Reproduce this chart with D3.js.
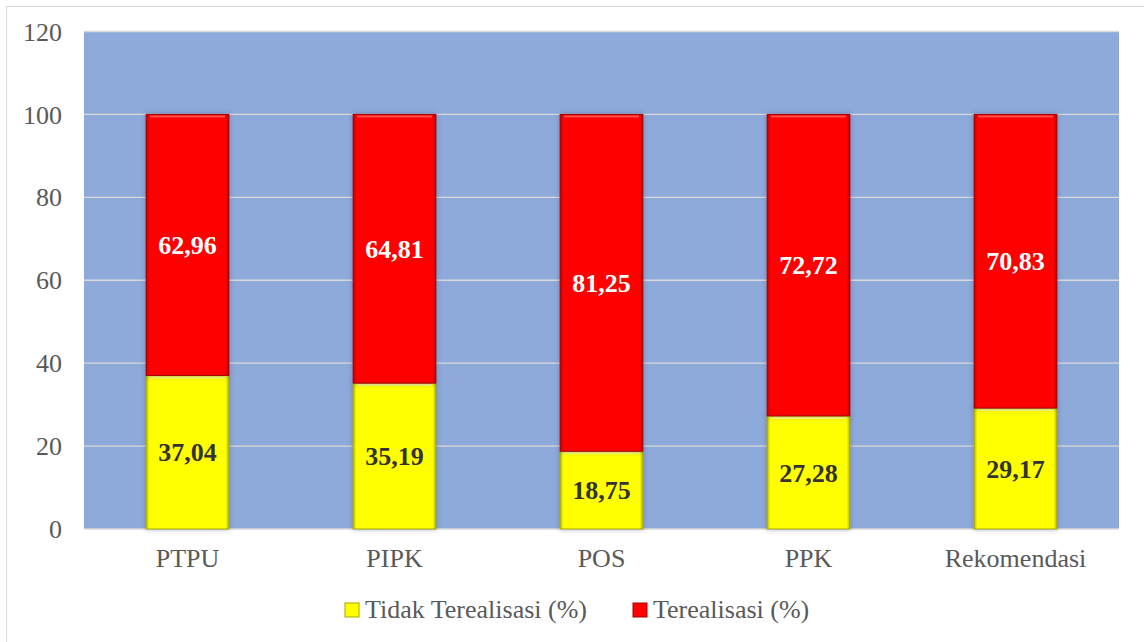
<!DOCTYPE html>
<html lang="id">
<head>
<meta charset="UTF-8">
<title>Realisasi</title>
<script src="https://d3js.org/d3.v7.min.js"></script>
<style>
  body { margin: 0; background: #fff; }
  svg { display: block; font-family: "Liberation Serif", "Times New Roman", serif; }
</style>
</head>
<body>
<script>
// data
var categories = ["PTPU", "PIPK", "POS", "PPK", "Rekomendasi"];
var tidakTerealisasi = [37.04, 35.19, 18.75, 27.28, 29.17];
var terealisasi = [62.96, 64.81, 81.25, 72.72, 70.83];
var yTicks = [0, 20, 40, 60, 80, 100, 120];
var seriesNames = ["Tidak Terealisasi (%)", "Terealisasi (%)"];

var W = 1144, H = 642;
var pLeft = 84, pRight = 1119, pTop = 31.5, pBottom = 529;
var fs = 26;

var svg = d3.select("body").append("svg").attr("width", W).attr("height", H);

// bevel gradients
var defs = svg.append("defs");
function bevel(id, base, dark) {
  var g = defs.append("linearGradient").attr("id", id).attr("x1", 0).attr("x2", 1).attr("y1", 0).attr("y2", 0);
  g.append("stop").attr("offset", "0%").attr("stop-color", dark);
  g.append("stop").attr("offset", "4%").attr("stop-color", base);
  g.append("stop").attr("offset", "96%").attr("stop-color", base);
  g.append("stop").attr("offset", "100%").attr("stop-color", dark);
}
bevel("gRed", "#ff0000", "#b80000");
bevel("gYel", "#ffff00", "#b8b800");

var f = defs.append("filter").attr("id", "shadow").attr("x", "-20%").attr("y", "-5%").attr("width", "140%").attr("height", "110%");
f.append("feDropShadow").attr("dx", 0).attr("dy", 0).attr("stdDeviation", 2.5).attr("flood-color", "#3a4a6a").attr("flood-opacity", 0.45);

// outer border
svg.append("rect").attr("x", 6.5).attr("y", 6.5).attr("width", 1150).attr("height", 650)
  .attr("fill", "none").attr("stroke", "#d9d9d9");

var x = d3.scaleBand().domain(categories).range([pLeft, pRight]).paddingInner(0.6).paddingOuter(0.3);
var y = d3.scaleLinear().domain([0, 120]).range([pBottom, pTop]);

// plot area
svg.append("rect").attr("x", pLeft).attr("y", pTop).attr("width", pRight - pLeft).attr("height", pBottom - pTop)
  .attr("fill", "#8eaadb");

svg.append("g").selectAll("line").data(yTicks).enter().append("line")
  .attr("x1", pLeft).attr("x2", pRight)
  .attr("y1", function(d){ return y(d); }).attr("y2", function(d){ return y(d); })
  .attr("stroke", "#d9d9d9").attr("stroke-width", 1.3);

// y labels
svg.append("g").selectAll("text").data(yTicks).enter().append("text")
  .attr("x", 62).attr("y", function(d){ return y(d); })
  .attr("dy", "0.35em").attr("text-anchor", "end")
  .attr("font-size", fs).attr("fill", "#595959")
  .text(function(d){ return d; });

// stacked bars
var rows = categories.map(function(c, i){ return { cat: c, a: tidakTerealisasi[i], b: terealisasi[i] }; });
var stack = d3.stack().keys(["a", "b"])(rows);
var fills = ["url(#gYel)", "url(#gRed)"];
var strokes = ["#a8a800", "#a00000"];
var labelColors = ["#333333", "#ffffff"];

function fmt(v) { return v.toFixed(2).replace(".", ","); }

stack.forEach(function(layer, k) {
  var g = svg.append("g");
  g.selectAll("rect").data(layer).enter().append("rect")
    .attr("x", function(d){ return x(d.data.cat); })
    .attr("y", function(d){ return y(d[1]); })
    .attr("width", x.bandwidth())
    .attr("height", function(d){ return y(d[0]) - y(d[1]); })
    .attr("fill", fills[k]).attr("stroke", strokes[k]).attr("stroke-width", 1)
    .attr("filter", "url(#shadow)");
  // top highlight strip
  g.selectAll("line.hl").data(layer).enter().append("line")
    .attr("x1", function(d){ return x(d.data.cat) + 4; })
    .attr("x2", function(d){ return x(d.data.cat) + x.bandwidth() - 4; })
    .attr("y1", function(d){ return y(d[1]) + 2; })
    .attr("y2", function(d){ return y(d[1]) + 2; })
    .attr("stroke", k ? "#ff6060" : "#ffff99").attr("stroke-width", 2).attr("opacity", 0.8);
});

stack.forEach(function(layer, k) {
  svg.append("g").selectAll("text").data(layer).enter().append("text")
    .attr("x", function(d){ return x(d.data.cat) + x.bandwidth() / 2; })
    .attr("y", function(d){ return y((d[0] + d[1]) / 2); })
    .attr("dy", "0.35em").attr("text-anchor", "middle")
    .attr("font-size", fs).attr("font-weight", "bold").attr("fill", labelColors[k])
    .text(function(d){ return fmt(d[1] - d[0]); });
});

// x labels
svg.append("g").selectAll("text").data(categories).enter().append("text")
  .attr("x", function(d){ return x(d) + x.bandwidth() / 2; })
  .attr("y", 567).attr("text-anchor", "middle")
  .attr("font-size", fs).attr("fill", "#595959")
  .text(function(d){ return d; });

// legend
var legX = [345, 633];
var legCol = ["#ffff00", "#ff0000"];
var legStroke = ["#a8a800", "#a00000"];
var leg = svg.append("g").selectAll("g").data(seriesNames).enter().append("g")
  .attr("transform", function(d, i){ return "translate(" + legX[i] + ",603)"; });
leg.append("rect").attr("width", 14).attr("height", 14)
  .attr("fill", function(d, i){ return legCol[i]; })
  .attr("stroke", function(d, i){ return legStroke[i]; });
leg.append("text").attr("x", 20).attr("y", 15)
  .attr("font-size", fs).attr("fill", "#595959")
  .text(function(d){ return d; });
</script>
</body>
</html>
